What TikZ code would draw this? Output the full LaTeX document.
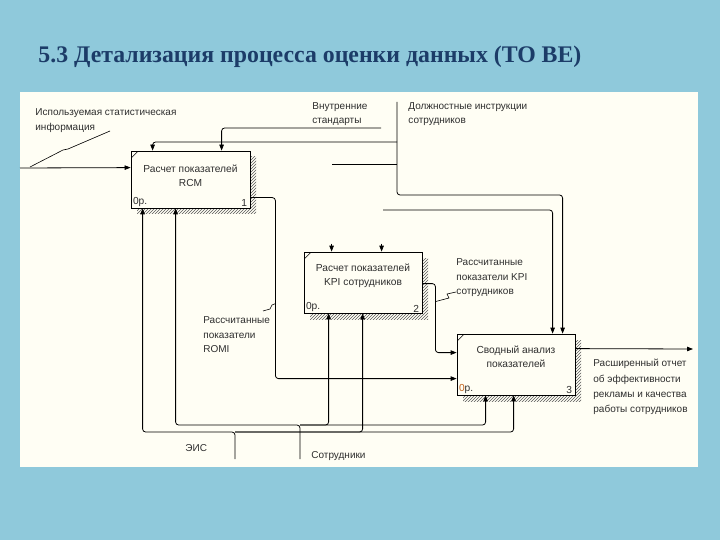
\documentclass[tikz,border=0pt]{standalone}
\usepackage{fontspec}
\setmainfont{Liberation Sans}
\newfontfamily\titlefont{Liberation Serif}
\usetikzlibrary{patterns,calc,arrows.meta}
\definecolor{bgblue}{HTML}{8FC9DB}
\definecolor{panel}{HTML}{FFFEF4}
\definecolor{titleblue}{HTML}{1C3C68}
\definecolor{txt}{HTML}{2E2E2E}
\definecolor{costcol}{HTML}{C0601A}
\begin{document}
\begin{tikzpicture}[x=1pt,y=-1pt, line width=0.8pt,
  arr/.style={-{Triangle[length=6pt,width=4.5pt]}},
  wire/.style={rounded corners=3pt},
  lbl/.style={font=\fontsize{10}{14.5}\selectfont, text=txt, align=left, anchor=north west, inner sep=0pt},
  procbox/.style={draw=black, fill=panel, line width=0.8pt, minimum width=118pt, minimum height=61pt, inner sep=0pt},
  boxtxt/.style={font=\fontsize{10.2}{14}\selectfont, text=txt, align=center, inner sep=0pt},
  shadowfill/.style={pattern=north east lines, pattern color=black!65},
  squig/.style={line width=0.6pt}
]
\fill[bgblue] (0,0) rectangle (720,540);
\useasboundingbox (0,0) rectangle (720,540);
\fill[panel] (20,92) rectangle (698,467);
\node[anchor=base west, inner sep=0pt, font=\titlefont\bfseries\fontsize{23.8}{26}\selectfont, text=titleblue] (title) at (38,63) {5.3 Детализация процесса оценки данных (TO BE)};

% shadows
\fill[shadowfill] (137,157) rectangle (256,214);
\fill[shadowfill] (310,258) rectangle (428,319);
\fill[shadowfill] (463,340) rectangle (581,401);

% boxes
\node[procbox, minimum width=119pt, minimum height=57pt] (b1) at (190.5,179.5) {};
\node[procbox] (b2) at (363,282.5) {};
\node[procbox] (b3) at (516,364.5) {};
\foreach \b in {b1,b2,b3}{
  \draw[line width=0.5pt] ($(\b.north west)+(1,7)$) -- ($(\b.north west)+(7,1)$);
}

\node[boxtxt] (b1t) at (190.5,175.5) {Расчет показателей\\RCM};
\node[boxtxt] (b2t) at (363,276) {Расчет показателей\\KPI сотрудников};
\node[boxtxt] (b3t) at (516,357) {Сводный анализ\\показателей};

\node[boxtxt, anchor=south west] (b1c) at ($(b1.south west)+(2,-1)$) {0р.};
\node[boxtxt, anchor=south east] (b1n) at ($(b1.south east)+(-3,-1)$) {1};
\node[boxtxt, anchor=south west] (b2c) at ($(b2.south west)+(2,-1)$) {0р.};
\node[boxtxt, anchor=south east] (b2n) at ($(b2.south east)+(-3,-1)$) {2};
\node[boxtxt, anchor=south west] (b3c) at ($(b3.south west)+(2,-1)$) {\textcolor{costcol}{0}р.};
\node[boxtxt, anchor=south east] (b3n) at ($(b3.south east)+(-3,-1)$) {3};

% ports
\coordinate (b1in) at ($(b1.north west)+(0,17)$);
\coordinate (b1ct1) at ($(b1.north west)+(22,0)$);
\coordinate (b1ct2) at ($(b1.north west)+(91,0)$);
\coordinate (b1m1) at ($(b1.south west)+(12,0)$);
\coordinate (b1m2) at ($(b1.south west)+(45,0)$);
\coordinate (b1out) at ($(b1.north east)+(0,47)$);
\coordinate (b2ct1) at ($(b2.north west)+(28,0)$);
\coordinate (b2ct2) at ($(b2.north west)+(78,0)$);
\coordinate (b2m1) at ($(b2.south west)+(25,0)$);
\coordinate (b2m2) at ($(b2.south west)+(59,0)$);
\coordinate (b2out) at ($(b2.north east)+(0,32)$);
\coordinate (b3ct1) at ($(b3.north west)+(96,0)$);
\coordinate (b3ct2) at ($(b3.north west)+(106,0)$);
\coordinate (b3in1) at ($(b3.north west)+(0,19)$);
\coordinate (b3in2) at ($(b3.north west)+(0,45)$);
\coordinate (b3m1) at ($(b3.south west)+(29,0)$);
\coordinate (b3m2) at ($(b3.south west)+(57,0)$);
\coordinate (b3out) at ($(b3.north east)+(0,15)$);

% free ends
\coordinate (statsrc) at (20,168);
\coordinate (stdsrc) at (381,128);
\coordinate (dtop) at (397,102);
\coordinate (dturn) at (397,195);
\coordinate (dj1) at (397,142);
\coordinate (dj2) at (397,164);
\coordinate (dend2) at (332,164);
\coordinate (ssrc) at (383,210);
\coordinate (b2s1) at ($(b2ct1)+(0,-8)$);
\coordinate (b2s2) at ($(b2ct2)+(0,-8)$);
\coordinate (resout) at (693,349);
\coordinate (sotsrc) at (300,459);
\coordinate (sotj) at (300,425);
\coordinate (eissrc) at (235,459);
\coordinate (eisj) at (235,432);

% wires
\draw[arr] (statsrc) -- (b1in);
\draw[arr, wire] (stdsrc) -| (b1ct2);
\draw[arr, wire] (dtop) -- (dturn) -| (b3ct2);
\draw[arr, wire] (dj1) -| (b1ct1);
\draw (dj2) -- (dend2);
\draw[arr, wire] (ssrc) -| (b3ct1);
\draw[arr] (b2s1) -- (b2ct1);
\draw[arr] (b2s2) -- (b2ct2);
\draw[arr, wire] (b1out) -- ++(25,0) |- (b3in2);
\draw[arr, wire] (b2out) -- ++(13,0) |- (b3in1);
\draw[arr] (b3out) -- (resout);
\draw[arr, wire] (sotsrc) -- (sotj) -| (b1m2);
\draw[arr, wire] (sotj) -| (b2m1);
\draw[arr, wire] (sotj) -| (b3m1);
\draw[arr, wire] (eissrc) -- (eisj) -| (b1m1);
\draw[arr, wire] (eisj) -| (b2m2);
\draw[arr, wire] (eisj) -| (b3m2);

% labels
\node[lbl] (lstat) at (35,108.5) {Используемая статистическая\\информация};
\node[lbl] (lstd) at (312,102) {Внутренние\\стандарты};
\node[lbl] (lduty) at (408,102) {Должностные инструкции\\сотрудников};
\node[lbl] (lromi) at (203,316.5) {Рассчитанные\\показатели\\ROMI};
\node[lbl] (lkpi) at (456,258.5) {Рассчитанные\\показатели KPI\\сотрудников};
\node[lbl, font=\fontsize{10}{15.2}\selectfont] (lout) at (593,359) {Расширенный отчет\\об эффективности\\рекламы и качества\\работы сотрудников};
\node[lbl] (leis) at (185,444.5) {ЭИС};
\node[lbl] (lsot) at (311,451.5) {Сотрудники};

% squiggles
\coordinate (sq1a) at (110,131);
\coordinate (sq1b) at (30,167);
\draw[squig] (sq1a) -- ++(-42,18) -- ++(-5,1) -- (sq1b);
\coordinate (sq2a) at (263,311);
\coordinate (sq2b) at ($(b1out)+(25,106)$);
\draw[squig] (sq2a) -- ++(7,-2) -- ++(2,-4) -- (sq2b);
\coordinate (sq3a) at (456,292);
\coordinate (sq3b) at ($(b2out)+(13,18)$);
\draw[squig] (sq3a) -- ++(-9,2) -- ++(2,4) -- (sq3b);
\end{tikzpicture}
\end{document}
